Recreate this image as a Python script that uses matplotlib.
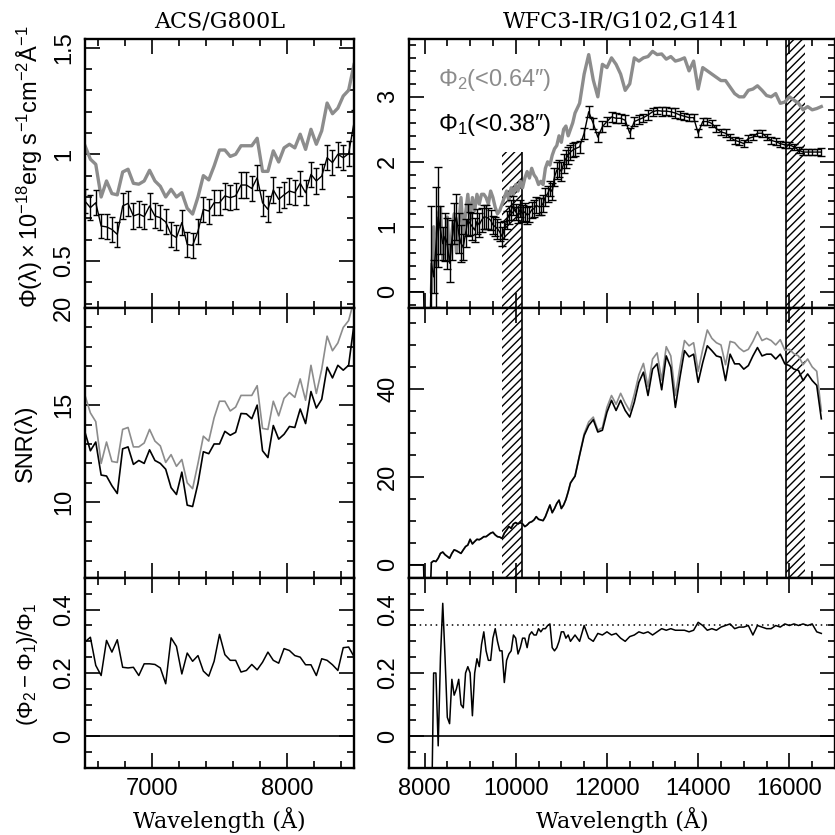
import numpy as np
import matplotlib
matplotlib.use("Agg")
import matplotlib.pyplot as plt
from matplotlib.ticker import MultipleLocator, FuncFormatter

plt.rcParams["font.family"] = ["Liberation Sans", "DejaVu Sans"]
plt.rcParams["mathtext.fontset"] = "custom"
plt.rcParams["mathtext.rm"] = "Liberation Sans"
plt.rcParams["mathtext.it"] = "Liberation Sans:italic"
plt.rcParams["hatch.linewidth"] = 1.0

GRAY = "0.55"
SERIF = "DejaVu Serif"

# ---- ACS/G800L (40 A bins) -------------------------------------------------
wave_acs = np.arange(6500, 8501, 40)
flux1_acs = [0.78, 0.75, 0.773, 0.664, 0.66, 0.648, 0.625, 0.758, 0.77, 0.711,
             0.72, 0.708, 0.758, 0.711, 0.703, 0.683, 0.625, 0.61, 0.68, 0.578,
             0.573, 0.64, 0.742, 0.734, 0.773, 0.773, 0.805, 0.797, 0.805, 0.856,
             0.856, 0.84, 0.89, 0.773, 0.742, 0.833, 0.789, 0.81, 0.828, 0.82,
             0.864, 0.82, 0.906, 0.875, 0.898, 0.984, 0.961, 1.0, 0.984, 1.003,
             1.148]
flux2_acs = [1.04, 0.977, 0.953, 0.80, 0.875, 0.816, 0.81, 0.917, 0.93, 0.864,
             0.86, 0.875, 0.925, 0.875, 0.85, 0.80, 0.836, 0.80, 0.82, 0.747,
             0.72, 0.80, 0.90, 0.88, 0.945, 1.02, 1.02, 0.99, 1.0, 1.04,
             1.04, 1.04, 1.075, 0.92, 0.92, 1.016, 0.964, 1.03, 1.047, 1.03,
             1.094, 1.023, 1.117, 1.047, 1.11, 1.24, 1.19, 1.216, 1.273, 1.30,
             1.42]
snr1_acs = [13.6, 12.65, 13.1, 11.4, 11.35, 10.85, 10.45, 12.75, 12.85, 11.95,
            12.15, 12.0, 12.7, 12.15, 12.0, 11.7, 10.75, 10.4, 11.55, 9.85,
            9.78, 10.97, 12.6, 12.5, 13.0, 13.0, 13.65, 13.45, 13.6, 14.57,
            14.55, 14.3, 15.0, 12.65, 12.3, 13.95, 13.25, 13.5, 13.9, 13.85,
            14.8, 14.05, 15.7, 14.85, 15.3, 16.95, 16.4, 17.05, 16.8, 17.05,
            19.15]
snr2_acs = [15.5, 14.6, 14.15, 12.0, 13.1, 12.1, 12.05, 13.75, 13.85, 12.85,
            12.85, 13.05, 13.75, 13.15, 12.9, 12.05, 12.45, 11.85, 12.2, 11.0,
            10.7, 12.0, 13.4, 13.15, 14.35, 15.2, 15.2, 14.7, 14.9, 15.5,
            15.5, 15.5, 16.0, 13.8, 13.75, 15.2, 14.45, 15.35, 15.65, 15.4,
            16.35, 15.25, 17.05, 15.6, 16.85, 18.55, 17.8, 18.2, 19.0, 19.35,
            20.4]
ratio_acs = [0.298, 0.313, 0.224, 0.192, 0.303, 0.266, 0.305, 0.218, 0.216, 0.218,
             0.192, 0.229, 0.229, 0.227, 0.216, 0.166, 0.311, 0.284, 0.197, 0.263,
             0.237, 0.255, 0.206, 0.19, 0.237, 0.322, 0.258, 0.24, 0.24, 0.203,
             0.208, 0.227, 0.21, 0.234, 0.266, 0.24, 0.231, 0.277, 0.271, 0.255,
             0.25, 0.226, 0.226, 0.192, 0.245, 0.24, 0.226, 0.208, 0.28, 0.282,
             0.252]

# ---- WFC3-IR/G102 (50 A) + G141 (100 A) ------------------------------------
wave_ir = np.concatenate([np.arange(8150, 11300, 50), np.arange(11300, 16701, 100)])
flux1_ir = [0.44, 0.23, 0.69, 1.15, 0.95, 0.74, 0.85, 0.74, 0.44, 0.8,
            1.05, 1.15, 0.9, 0.74, 0.69, 0.9, 1.1, 1.05, 1.0, 0.95,
            1.08, 1.03, 1.1, 1.15, 1.15, 1.13, 1.1, 1.03, 1.0, 0.97,
            0.92, 0.85, 0.95, 1.1, 1.18, 1.26, 1.33, 1.23, 1.18, 1.28,
            1.2, 1.23, 1.18, 1.2, 1.26, 1.28, 1.33, 1.31, 1.31, 1.36,
            1.46, 1.51, 1.59, 1.54, 1.77, 1.87, 1.9, 1.85, 1.97, 2.05,
            2.1, 2.15, 2.18,
            2.2, 2.23, 2.44, 2.77, 2.59, 2.38, 2.54, 2.62, 2.69, 2.67,
            2.67, 2.64, 2.44, 2.62, 2.65, 2.68, 2.72, 2.77, 2.79, 2.78,
            2.78, 2.77, 2.75, 2.72, 2.70, 2.68, 2.68, 2.44, 2.62, 2.62,
            2.59, 2.51, 2.46, 2.44, 2.38, 2.33, 2.31, 2.28, 2.36, 2.38,
            2.44, 2.44, 2.38, 2.33, 2.31, 2.28, 2.26, 2.26, 2.23, 2.18,
            2.15, 2.15, 2.15, 2.15, 2.15]
flux2_ir = [0.0, 1.0, 0.4, 1.2, 1.3, 0.5, 0.7, 1.15, 0.5, 0.9,
            1.2, 0.6, 1.0, 1.45, 0.9, 1.2, 1.5, 1.1, 1.45, 1.25,
            1.5, 1.35, 1.5, 1.5, 1.45, 1.35, 1.55, 1.45, 1.3, 1.2,
            1.25, 1.35, 1.45, 1.55, 1.4, 1.6, 1.5, 1.65, 1.55, 1.7,
            1.6, 1.75, 1.85, 1.75, 1.9, 1.8, 1.75, 1.65, 1.7, 1.65,
            1.9, 2.0, 1.95, 2.1, 2.2, 2.25, 2.4, 2.3, 2.5, 2.55,
            2.4, 2.5, 2.6,
            2.75, 2.9, 3.35, 3.65, 3.26, 3.0, 3.5, 3.45, 3.6, 3.5,
            3.35, 3.1, 3.2, 3.6, 3.55, 3.6, 3.62, 3.7, 3.65, 3.66,
            3.58, 3.62, 3.55, 3.57, 3.6, 3.4, 3.55, 3.12, 3.45, 3.4,
            3.35, 3.3, 3.25, 3.25, 3.15, 3.05, 3.0, 3.0, 3.1, 3.12,
            3.17, 3.1, 3.02, 3.0, 3.05, 2.9, 2.92, 3.0, 2.95, 2.9,
            2.8, 2.85, 2.8, 2.82, 2.85]
snr1_ir = [0.5, 0.9, 0.75, 1.5, 2.6, 2.9, 2.3, 1.9, 1.5, 2.6,
           3.4, 3.2, 2.9, 2.6, 3.4, 4.15, 4.5, 5.8, 4.75, 5.3,
           5.8, 5.7, 6.0, 6.4, 6.4, 6.8, 7.2, 7.4, 6.8, 6.4,
           6.3, 6.0, 7.2, 7.9, 8.7, 8.3, 9.3, 9.6, 9.3, 9.6,
           9.3, 8.7, 9.05, 9.6, 9.8, 10.2, 10.95, 10.35, 10.2, 10.05,
           10.95, 12.3, 13.6, 11.85, 12.8, 13.95, 14.7, 12.8, 13.6, 14.85,
           16.6, 18.6, 19.4,
           20.15, 24.9, 29.4, 31.7, 33.0, 30.2, 30.6, 34.7, 37.4, 35.1,
           37.4, 35.1, 33.6, 37.0, 41.5, 43.8, 38.5, 44.5, 45.7, 39.8,
           47.5, 44.9, 35.8, 42.6, 48.7, 47.3, 47.9, 41.5, 46.0, 49.8,
           48.7, 47.5, 47.2, 41.9, 47.9, 45.7, 45.7, 44.5, 45.3, 47.5,
           49.4, 47.5, 47.9, 47.9, 46.8, 47.9, 45.7, 45.3, 44.5, 44.2,
           41.9, 43.4, 41.9, 40.8, 33.2]
snr2_ir = [0.5, 0.9, 0.75, 1.5, 2.6, 2.9, 2.3, 1.9, 1.5, 2.6,
           3.4, 3.2, 2.9, 2.6, 3.4, 4.15, 4.5, 5.8, 4.75, 5.3,
           5.8, 5.7, 6.0, 6.4, 6.4, 6.8, 7.2, 7.4, 6.8, 6.4,
           6.3, 6.0, 7.2, 7.9, 8.7, 8.3, 9.3, 9.6, 9.3, 9.6,
           9.3, 8.7, 9.05, 9.6, 9.8, 10.2, 10.95, 10.35, 10.2, 10.05,
           10.95, 12.3, 13.6, 11.85, 12.8, 13.95, 14.7, 12.8, 13.6, 14.85,
           16.6, 18.6, 19.4,
           20.2, 25.0, 29.8, 32.5, 33.6, 30.6, 31.2, 35.8, 38.5, 36.5,
           39.0, 36.8, 35.0, 38.8, 43.2, 45.8, 40.5, 46.8, 48.2, 42.0,
           49.6, 47.5, 38.5, 45.0, 51.0, 49.8, 50.5, 44.0, 49.0, 53.4,
           51.5, 50.5, 50.0, 45.5, 50.8, 50.5, 49.3, 48.5, 49.0, 50.8,
           53.0, 51.0, 51.5, 51.0, 50.0, 51.2, 48.8, 49.0, 48.0, 47.5,
           45.5, 46.8, 45.0, 44.0, 35.0]
ratio_ir = [-0.3, 0.2, 0.2, -0.03, 0.25, 0.42, 0.25, 0.06, 0.04, 0.18,
            0.13, 0.15, 0.18, 0.1, 0.09, 0.2, 0.22, 0.2, 0.065, 0.2,
            0.245, 0.22, 0.29, 0.33, 0.27, 0.24, 0.24, 0.31, 0.34, 0.3,
            0.27, 0.27, 0.17, 0.24, 0.26, 0.27, 0.32, 0.31, 0.26, 0.28,
            0.31, 0.31, 0.28, 0.32, 0.33, 0.32, 0.32, 0.34, 0.33, 0.34,
            0.34, 0.35, 0.355, 0.28, 0.27, 0.28, 0.3, 0.33, 0.33, 0.31,
            0.32, 0.3, 0.31,
            0.32, 0.3, 0.35, 0.31, 0.3, 0.325, 0.32, 0.33, 0.32, 0.325,
            0.31, 0.3, 0.315, 0.32, 0.33, 0.325, 0.33, 0.32, 0.33, 0.34,
            0.335, 0.34, 0.335, 0.335, 0.335, 0.33, 0.335, 0.36, 0.35, 0.335,
            0.34, 0.335, 0.345, 0.35, 0.355, 0.34, 0.345, 0.345, 0.35, 0.32,
            0.35, 0.345, 0.34, 0.34, 0.35, 0.345, 0.355, 0.35, 0.355, 0.35,
            0.355, 0.35, 0.355, 0.33, 0.325]

# zero-padded samples blueward of the grism coverage
pad_wave_ir = [7660, 7980, 8050]
pad_flux_ir = [0.0, 0.0, -3.0]
pad_snr_ir = [0.0, 0.0, -30.0]

# regions affected by grism edges / contamination
mask_regions = [(9700, 10130), (15930, 16340)]
mask_flux_top = [2.15, None]
mask_edges = [10130, 15930]
ratio_ref_ir = 0.35

flux1_acs, flux2_acs = np.array(flux1_acs), np.array(flux2_acs)
snr1_acs, snr2_acs = np.array(snr1_acs), np.array(snr2_acs)
flux1_ir, flux2_ir = np.array(flux1_ir), np.array(flux2_ir)
snr1_ir, snr2_ir = np.array(snr1_ir), np.array(snr2_ir)
err1_acs = flux1_acs / snr1_acs
err1_ir = flux1_ir / snr1_ir


def fpos(x0, y0, x1, y1, W=835.0):
    return [x0 / W, 1 - y1 / W, (x1 - x0) / W, (y1 - y0) / W]


def style(ax, xmaj, xmin, ymaj, ymin, xlabels=False):
    ax.xaxis.set_major_locator(MultipleLocator(xmaj))
    ax.xaxis.set_minor_locator(MultipleLocator(xmin))
    ax.yaxis.set_major_locator(MultipleLocator(ymaj))
    ax.yaxis.set_minor_locator(MultipleLocator(ymin))
    ax.yaxis.set_major_formatter(FuncFormatter(lambda v, p: f"{v:g}"))
    ax.xaxis.set_major_formatter(FuncFormatter(lambda v, p: f"{v:g}"))
    ax.tick_params(which="both", direction="in", top=True, right=True,
                   width=1.2, labelsize=17, labelbottom=xlabels)
    ax.tick_params(which="major", length=11, pad=7)
    ax.tick_params(which="minor", length=5)
    ax.tick_params(axis="y", labelrotation=90)
    for lab in ax.get_yticklabels():
        lab.set_va("center")
    for sp in ax.spines.values():
        sp.set_linewidth(1.7)


fig = plt.figure(figsize=(8.35, 8.35), dpi=100)
ax_f1 = fig.add_axes(fpos(85, 39, 354, 308))
ax_s1 = fig.add_axes(fpos(85, 308, 354, 578))
ax_r1 = fig.add_axes(fpos(85, 578, 354, 768))
ax_f2 = fig.add_axes(fpos(409, 39, 835, 308))
ax_s2 = fig.add_axes(fpos(409, 308, 835, 578))
ax_r2 = fig.add_axes(fpos(409, 578, 835, 768))

# ---- left column: ACS ------------------------------------------------------
ax_f1.plot(wave_acs, flux2_acs, color=GRAY, lw=2.4)
ax_f1.errorbar(wave_acs, flux1_acs, yerr=err1_acs, color="k", lw=1.0,
               elinewidth=1.0, capsize=2.4, capthick=1.0)
ax_f1.set_ylim(0.28, 1.54)

ax_s1.plot(wave_acs, snr2_acs, color=GRAY, lw=1.2)
ax_s1.plot(wave_acs, snr1_acs, color="k", lw=1.2)
ax_s1.set_ylim(6.1, 20.0)

ax_r1.plot(wave_acs, ratio_acs, color="k", lw=1.1)
ax_r1.axhline(0, color="k", lw=1.2)
ax_r1.set_ylim(-0.1, 0.5)

for ax in (ax_f1, ax_s1, ax_r1):
    ax.set_xlim(6500, 8500)
style(ax_f1, 1000, 200, 0.5, 0.1)
style(ax_s1, 1000, 200, 5, 1)
style(ax_r1, 1000, 200, 0.2, 0.05, xlabels=True)

# ---- right column: WFC3-IR -------------------------------------------------
ylo_f2, yhi_f2 = -0.25, 3.89
ylo_s2, yhi_s2 = -3.0, 58.4
for (w0, w1), top in zip(mask_regions, mask_flux_top):
    ytop = yhi_f2 if top is None else top
    ax_f2.fill_between([w0, w1], ylo_f2, ytop, facecolor="none",
                       edgecolor="k", hatch="////", lw=0, zorder=1)
    ax_s2.fill_between([w0, w1], ylo_s2, yhi_s2, facecolor="none",
                       edgecolor="k", hatch="////", lw=0, zorder=1)
ax_f2.vlines(mask_edges[0], ylo_f2, mask_flux_top[0], color="k", lw=1.2)
ax_f2.axvline(mask_edges[1], color="k", lw=1.2)
for x in mask_edges:
    ax_s2.axvline(x, color="k", lw=1.2)

ax_f2.plot(wave_ir, flux2_ir, color=GRAY, lw=2.4, zorder=3)
ax_f2.plot(np.concatenate([pad_wave_ir, wave_ir]),
           np.concatenate([pad_flux_ir, flux1_ir]), color="k", lw=1.0, zorder=4)
ax_f2.errorbar(wave_ir, flux1_ir, yerr=err1_ir, fmt="none", ecolor="k",
               elinewidth=1.0, capsize=2.6, capthick=1.0, zorder=4)
ax_f2.text(0.068, 0.848, r"$\mathrm{\Phi_2}$(<0.64″)", color=GRAY, fontsize=17,
           transform=ax_f2.transAxes, va="center", ha="left")
ax_f2.text(0.068, 0.680, r"$\mathrm{\Phi_1}$(<0.38″)", color="k", fontsize=17,
           transform=ax_f2.transAxes, va="center", ha="left")
ax_f2.set_ylim(ylo_f2, yhi_f2)

ax_s2.plot(wave_ir, snr2_ir, color=GRAY, lw=1.2, zorder=3)
ax_s2.plot(np.concatenate([pad_wave_ir, wave_ir]),
           np.concatenate([pad_snr_ir, snr1_ir]), color="k", lw=1.2, zorder=4)
ax_s2.set_ylim(ylo_s2, yhi_s2)

ax_r2.plot(wave_ir, ratio_ir, color="k", lw=1.1)
ax_r2.axhline(0, color="k", lw=1.2)
ax_r2.axhline(ratio_ref_ir, color="k", lw=1.1, ls=(0, (1, 2.5)))
ax_r2.set_ylim(-0.1, 0.5)

for ax in (ax_f2, ax_s2, ax_r2):
    ax.set_xlim(7660, 17000)
style(ax_f2, 2000, 500, 1, 0.2)
style(ax_s2, 2000, 500, 20, 5)
style(ax_r2, 2000, 500, 0.2, 0.05, xlabels=True)

# ---- titles and labels -----------------------------------------------------
ax_f1.set_title("ACS/G800L", family=SERIF, fontsize=16, pad=8)
ax_f2.set_title("WFC3-IR/G102,G141", family=SERIF, fontsize=16, pad=8)
ax_r1.set_xlabel("Wavelength (Å)", family=SERIF, fontsize=16, labelpad=5)
ax_r2.set_xlabel("Wavelength (Å)", family=SERIF, fontsize=16, labelpad=5)

fig.text(30 / 835, 1 - 167 / 835,
         r"$\mathrm{\Phi(\lambda)\times10^{-18}erg\ s^{-1}cm^{-2}Å^{-1}}$",
         rotation=90, ha="center", va="center", fontsize=17)
fig.text(25 / 835, 1 - 443 / 835, "SNR(λ)", rotation=90,
         ha="center", va="center", fontsize=17)
fig.text(28 / 835, 1 - 664 / 835, r"$\mathrm{(\Phi_2-\Phi_1)/\Phi_1}$",
         rotation=90, ha="center", va="center", fontsize=16)

fig.savefig("out.png", dpi=100)
